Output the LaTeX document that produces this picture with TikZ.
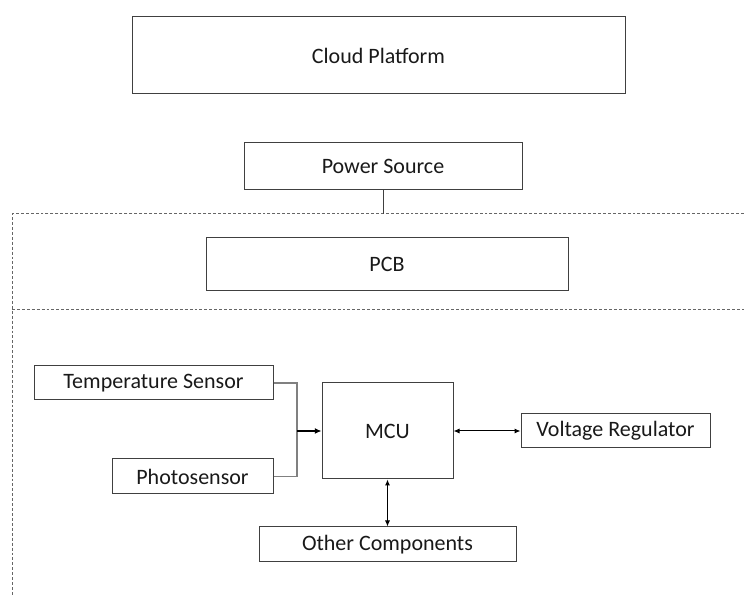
\documentclass[tikz,border=0pt]{standalone}
\usepackage{fontspec}
\setmainfont{Carlito}
\usetikzlibrary{arrows.meta}
\tikzset{
  blk/.style={draw=black!75, line width=0.75pt, inner sep=0pt, text=black!90,
    font=\fontsize{16.5}{19}\selectfont},
  zone/.style={draw=black!60, line width=0.75pt, dash pattern=on 2.2pt off 1.5pt},
  feed/.style={draw=black!50, line width=0.9pt},
  link/.style={draw=black, line width=0.75pt, {Latex[length=4.5pt,width=3.8pt]}-{Latex[length=4.5pt,width=3.8pt]}}
}
\begin{document}
\begin{tikzpicture}[x=0.75pt, y=-0.75pt]
                \useasboundingbox (0,0) rectangle (744,595);
                \node[blk, minimum width=369.75pt, minimum height=57.75pt] (cloud) at (378.5,55.5) {Cloud Platform};
                \node[blk, minimum width=208.5pt, minimum height=35.25pt] (power) at (383,166.5) {Power Source};
                \node[blk, minimum width=271.5pt, minimum height=39.75pt] (pcb) at (387,264.5) {PCB};

                \draw[zone] (744,214) -- (12,214) -- (12,595);
                \draw[zone] (12,310) -- (744,310);
                \coordinate (tap) at (383,214);
                \draw[blk] (power.south) -- (tap);

                \node[blk, minimum width=179.25pt, minimum height=25.5pt] (temp) at (153.5,383) {Temperature Sensor};
                \node[blk, minimum width=120.75pt, minimum height=26.25pt] (photo) at (192.5,476.5) {Photosensor};
                \node[blk, minimum width=98.25pt, minimum height=72pt] (mcu) at (387.5,431) {MCU};
                \node[blk, minimum width=141.75pt, minimum height=25.5pt] (volt) at (615.5,431) {Voltage Regulator};
                \node[blk, minimum width=192.75pt, minimum height=26.25pt] (other) at (387.5,544.5) {Other Components};

                \coordinate (join) at (297,431);
                \draw[feed] (temp.east) -| (join);
                \draw[feed] (photo.east) -| (join);
                \draw[line width=0.9pt, -{Latex[length=5pt,width=4.5pt]}] (join) -- (mcu.west);
                \draw[link] (mcu.east) -- (volt.west);
                \draw[link] (mcu.south) -- (other.north);
            \end{tikzpicture}
\end{document}
